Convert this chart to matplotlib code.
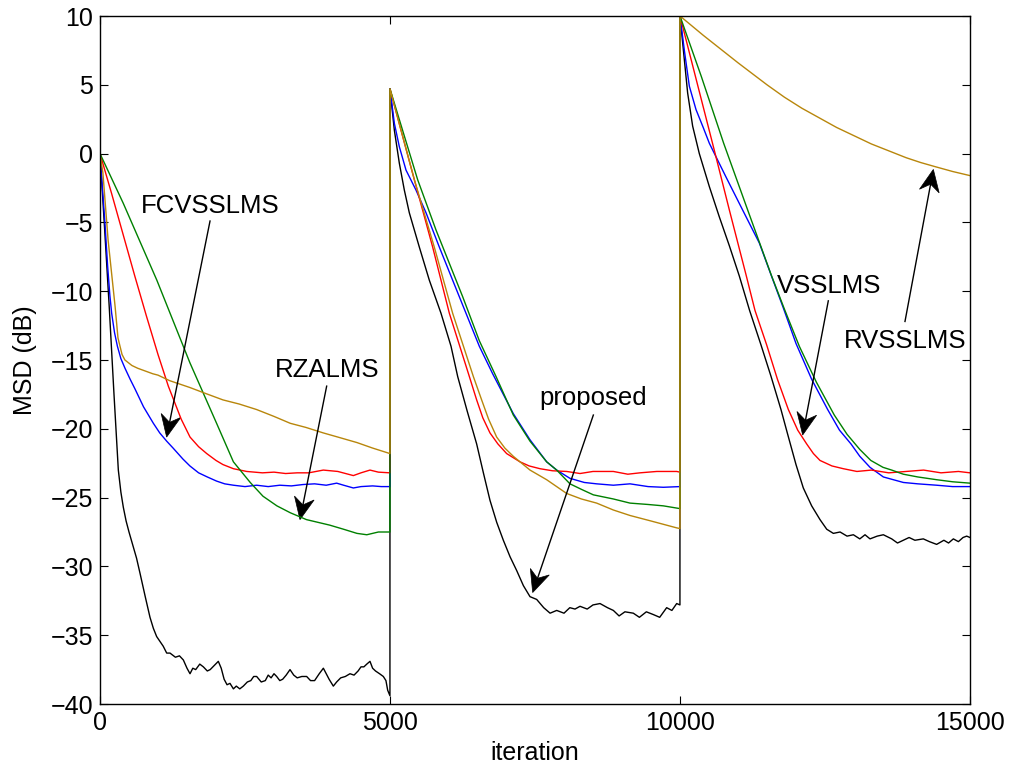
import numpy as np
import matplotlib
matplotlib.use("Agg")
import matplotlib.pyplot as plt
from matplotlib.patches import Polygon

plt.rcParams['font.family'] = ['Liberation Sans', 'DejaVu Sans']

# ---------------- data ----------------
black_x = [0, 80, 160, 240, 316, 360, 402, 450, 500, 575, 630, 690, 780, 862, 920, 977, 1090, 1150, 1207, 1300,
           1370, 1437, 1500, 1552, 1600, 1650, 1720, 1782, 1850, 1900, 1970, 2040, 2090, 2140, 2190, 2241, 2300,
           2350, 2410, 2471, 2540, 2600, 2650, 2701, 2780, 2850, 2900, 2950, 3000, 3046, 3100, 3150, 3210, 3276,
           3340, 3400, 3480, 3563, 3630, 3700, 3780, 3851, 3900, 3950, 4023, 4080, 4150, 4230, 4310, 4380, 4450,
           4500, 4550, 4600, 4655, 4700, 4750, 4820, 4885, 4930, 4960, 4999,
           5000, 5075, 5161, 5247, 5333, 5506, 5678, 5879, 6052, 6167, 6330, 6494, 6610, 6724, 6840, 6954, 7070,
           7184, 7300, 7414, 7529, 7650, 7760, 7874, 8000, 8100, 8190, 8276, 8400, 8500, 8621, 8750, 8851, 8950,
           9050, 9195, 9300, 9420, 9540, 9650, 9770, 9860, 9943, 9999,
           10000, 10075, 10132, 10218, 10333, 10506, 10678, 10851, 11023, 11200, 11396, 11570, 11741, 11850, 12000,
           12126, 12270, 12414, 12530, 12644, 12760, 12880, 12989, 13100, 13190, 13276, 13400, 13506, 13650, 13750,
           13851, 13950, 14050, 14195, 14300, 14425, 14550, 14630, 14713, 14800, 14880, 14943, 15000]
black_y = [0, -5.5, -11.2, -17.4, -23.0, -24.6, -25.7, -26.7, -27.5, -28.6, -29.4, -30.5, -32.2, -33.7, -34.5, -35.1,
           -35.8, -36.3, -36.3, -36.6, -36.5, -36.8, -37.4, -37.8, -37.4, -37.5, -37.1, -37.3, -37.6, -37.5, -37.2,
           -36.9, -37.4, -38.2, -38.6, -38.5, -38.9, -38.7, -38.9, -38.7, -38.4, -38.3, -38.0, -38.0, -38.4, -38.3,
           -37.9, -38.1, -37.8, -38.0, -38.3, -38.2, -37.9, -37.5, -37.9, -38.1, -38.0, -38.0, -38.3, -38.3, -37.8,
           -37.4, -37.8, -38.2, -38.7, -38.4, -38.1, -38.0, -37.8, -37.9, -37.6, -37.3, -37.3, -37.1, -36.9, -37.4,
           -37.6, -37.8, -38.0, -38.3, -39.0, -39.4,
           4.7, 1.7, -0.7, -2.65, -4.3, -6.8, -9.2, -11.6, -14.0, -16.2, -18.7, -21.1, -23.2, -25.2, -26.8, -28.1,
           -29.3, -30.3, -31.4, -32.2, -32.4, -33.0, -33.4, -33.2, -33.4, -33.0, -33.1, -32.9, -33.1, -32.8, -32.7,
           -33.0, -33.2, -33.6, -33.3, -33.4, -33.7, -33.3, -33.5, -33.7, -33.0, -33.2, -32.7, -32.8,
           10.0, 6.8, 4.4, 2.0, 0.0, -2.4, -4.6, -6.7, -8.9, -11.4, -13.9, -16.2, -18.6, -20.3, -22.6, -24.3, -25.6,
           -26.6, -27.3, -27.6, -27.5, -27.8, -27.7, -28.0, -27.7, -28.0, -27.8, -27.7, -28.0, -28.3, -28.1, -27.9,
           -28.1, -28.0, -28.2, -28.4, -28.1, -28.3, -28.0, -28.2, -27.9, -27.8, -27.9]

blue_x = [0, 40, 86, 132, 170, 201, 250, 300, 360, 431, 520, 603, 750, 920, 1030, 1150, 1260, 1430, 1550, 1700,
          1850, 2010, 2150, 2300, 2500, 2700, 2900, 3100, 3300, 3500, 3700, 3900, 4080, 4200, 4368, 4500, 4700,
          4850, 4999,
          5000, 5075, 5161, 5276, 5448, 5621, 5851, 6080, 6310, 6540, 6770, 7126, 7414, 7701, 7874, 8103, 8350,
          8563, 8851, 9138, 9450, 9713, 9999,
          10000, 10075, 10161, 10276, 10400, 10506, 10793, 11080, 11368, 11560, 11780, 12000, 12270, 12546, 12750,
          12948, 13100, 13276, 13506, 13851, 14100, 14425, 14700, 15000]
blue_y = [0, -2.4, -5.1, -8.2, -10.3, -11.6, -13.0, -14.0, -14.9, -15.6, -16.4, -17.1, -18.4, -19.6, -20.3, -20.9,
          -21.4, -22.2, -22.7, -23.2, -23.5, -23.8, -24.0, -24.1, -24.2, -24.1, -24.2, -24.1, -24.15, -24.05, -24.0,
          -24.1, -23.95, -24.1, -24.3, -24.2, -24.15, -24.2, -24.2,
          4.7, 2.2, 0.5, -1.2, -2.65, -4.3, -6.8, -9.2, -11.6, -14.0, -16.0, -18.9, -20.8, -22.4, -23.0, -23.6,
          -23.9, -24.0, -24.1, -24.0, -24.2, -24.25, -24.2,
          10.0, 7.5, 4.9, 3.2, 1.9, 0.75, -1.7, -4.1, -6.5, -8.7, -11.2, -13.8, -16.4, -18.6, -20.1, -21.1, -22.0,
          -22.8, -23.5, -23.9, -24.0, -24.1, -24.2, -24.2]

red_x = [0, 200, 400, 600, 800, 1000, 1178, 1400, 1552, 1700, 1840, 2000, 2120, 2300, 2530, 2800, 3000, 3200, 3400,
         3600, 3850, 4100, 4368, 4500, 4655, 4800, 4999,
         5000, 5190, 5420, 5736, 6023, 6368, 6494, 6600, 6724, 6860, 7011, 7241, 7400, 7586, 7800, 8046, 8276,
         8500, 8851, 9100, 9310, 9600, 9943, 9999,
         10000, 10200, 10400, 10600, 10851, 11138, 11293, 11494, 11680, 11868, 12030, 12184, 12300, 12414, 12620,
         12816, 13050, 13300, 13600, 13900, 14200, 14500, 14800, 15000]
red_y = [0, -2.9, -5.9, -8.9, -11.8, -14.6, -16.9, -19.3, -20.6, -21.3, -21.8, -22.3, -22.6, -22.9, -23.1, -23.2,
         -23.15, -23.25, -23.2, -23.2, -23.0, -23.1, -23.4, -23.2, -23.0, -23.15, -23.2,
         4.7, 1.7, -1.9, -6.8, -11.6, -16.2, -17.9, -19.2, -20.3, -21.1, -21.8, -22.4, -22.7, -22.9, -23.05, -23.1,
         -23.25, -23.1, -23.1, -23.3, -23.2, -23.1, -23.1, -23.15,
         10.0, 6.7, 3.4, 0.1, -4.1, -8.8, -11.4, -13.9, -16.4, -18.6, -20.1, -21.1, -21.8, -22.3, -22.7, -22.9,
         -23.1, -23.0, -23.2, -23.1, -23.0, -23.2, -23.1, -23.2]

green_x = [0, 400, 980, 1550, 2010, 2300, 2590, 2810, 3050, 3280, 3560, 3960, 4200, 4430, 4600, 4800, 4999,
           5000, 5477, 5793, 6253, 6540, 6828, 7126, 7414, 7701, 7874, 8103, 8300, 8506, 8851, 9138, 9450, 9713,
           9999,
           10000, 10368, 10753, 11167, 11580, 11800, 12057, 12350, 12660, 12880, 13100, 13290, 13500, 13650, 13851,
           14100, 14425, 14700, 15000]
green_y = [0, -3.6, -9.2, -15.2, -19.6, -22.4, -23.9, -24.9, -25.6, -26.1, -26.6, -27.0, -27.3, -27.6, -27.7,
           -27.5, -27.5,
           4.7, -1.9, -5.55, -10.4, -13.6, -16.2, -19.0, -20.9, -22.4, -23.0, -24.0, -24.4, -24.8, -25.1, -25.4,
           -25.5, -25.6, -25.8,
           10.0, 5.6, 0.75, -4.1, -8.9, -11.3, -14.0, -16.6, -19.0, -20.4, -21.5, -22.3, -22.8, -23.0, -23.3, -23.5,
           -23.7, -23.85, -23.95]

gold_x = [0, 50, 140, 260, 310, 380, 430, 550, 650, 910, 1000, 1200, 1550, 1800, 2120, 2400, 2700, 3000, 3280,
          3550, 3850, 4100, 4430, 4700, 4999,
          5000, 5190, 5420, 5764, 6080, 6437, 6580, 6700, 6839, 6980, 7126, 7270, 7414, 7701, 8046, 8300, 8563,
          8850, 9138, 9500, 9943, 9999,
          10000, 10200, 10400, 10700, 11000, 11250, 11500, 11800, 12100, 12400, 12700, 13000, 13300, 13600, 13900,
          14150, 14400, 14700, 15000]
gold_y = [0, -1.4, -6.3, -11.1, -13.4, -14.6, -15.0, -15.4, -15.6, -16.0, -16.1, -16.5, -17.0, -17.4, -17.9, -18.2,
          -18.6, -19.1, -19.6, -19.9, -20.3, -20.6, -21.0, -21.4, -21.8,
          4.7, 1.7, -1.9, -6.8, -11.6, -16.2, -17.9, -19.3, -20.6, -21.4, -22.0, -22.5, -23.0, -23.7, -24.7, -25.1,
          -25.4, -25.9, -26.3, -26.7, -27.2, -27.25,
          10.0, 9.3, 8.6, 7.6, 6.6, 5.8, 5.0, 4.1, 3.3, 2.6, 1.9, 1.3, 0.7, 0.2, -0.3, -0.65, -0.95, -1.3, -1.6]

x_ticks = [0, 5000, 10000, 15000]
y_ticks = [-40, -35, -30, -25, -20, -15, -10, -5, 0, 5, 10]

# annotations: label, text position, arrow tail, arrow tip (data coords)
labels = ["FCVSSLMS", "RZALMS", "proposed", "VSSLMS", "RVSSLMS"]
label_pos = [(1905, -4.34), (3910, -16.2), (8506, -18.3), (12566, -10.15), (13874, -14.15)]
arrow_tail = [(1897, -4.9), (3908, -16.9), (8506, -19.0), (12557, -10.7), (13879, -12.2)]
arrow_tip = [(1149, -20.6), (3448, -26.6), (7460, -31.9), (12115, -20.45), (14368, -1.15)]

# ---------------- figure ----------------
W, H, DPI = 1010, 769, 100
fig = plt.figure(figsize=(W / DPI, H / DPI), dpi=DPI)
ax = fig.add_axes([100 / W, 1 - 704 / H, 870 / W, 688 / H])

lw = 1.0
ax.plot(black_x, black_y, color='black', lw=lw)
ax.plot(blue_x, blue_y, color='#0000ff', lw=lw)
ax.plot(red_x, red_y, color='#ff0000', lw=lw)
ax.plot(green_x, green_y, color='#008000', lw=lw)
ax.plot(gold_x, gold_y, color='#b8860b', lw=lw)

ax.set_xlim(0, 15000)
ax.set_ylim(-40, 10)
ax.set_xticks(x_ticks)
ax.set_yticks(y_ticks)
ax.set_xticklabels([str(v) for v in x_ticks])
ax.set_yticklabels([str(v).replace('-', '\u2212') for v in y_ticks])
ax.tick_params(direction='in', length=6, width=0.8, top=True, right=True, labelsize=18, pad=5)
for s in ax.spines.values():
    s.set_linewidth(1.0)
ax.set_xlabel('iteration', fontsize=18, labelpad=4)
ax.set_ylabel('MSD (dB)', fontsize=18, labelpad=10)

# annotations with notched arrowheads (MATLAB vback2 style)
fig.canvas.draw()
L, HW, NOTCH = 22.0, 10.0, 7.0
for lab, pos, tail, tip in zip(labels, label_pos, arrow_tail, arrow_tip):
    ax.text(pos[0], pos[1], lab, ha='center', va='baseline', fontsize=18.5)
    t0 = ax.transData.transform(tail)
    t1 = ax.transData.transform(tip)
    d = (t1 - t0) / np.hypot(*(t1 - t0))
    n = np.array([-d[1], d[0]])
    back = t1 - (L - NOTCH) * d
    pts = [t1, t1 - L * d + HW * n, back, t1 - L * d - HW * n]
    inv = ax.transData.inverted()
    line_pts = inv.transform([t0, back])
    ax.plot(line_pts[:, 0], line_pts[:, 1], color='black', lw=1.0)
    ax.add_patch(Polygon(inv.transform(pts), closed=True, facecolor='black', edgecolor='black', lw=0.5))

fig.savefig('out.png', dpi=DPI)
